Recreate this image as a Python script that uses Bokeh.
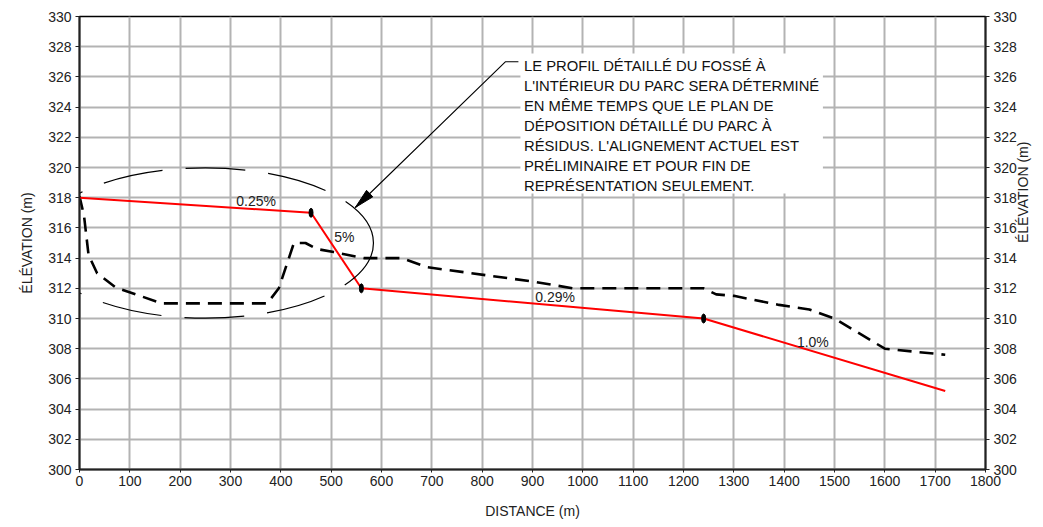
import math
from bokeh.plotting import figure
from bokeh.models import LinearAxis, FixedTicker, Range1d
from bokeh.core.properties import value
from bokeh.embed import file_html
from bokeh.resources import INLINE

# ---------------- data ----------------
x_ticks = list(range(0, 1801, 100))
y_ticks = list(range(300, 331, 2))

# existing ground profile (dashed black)
ground_x = [0, 9, 18, 35, 72, 164, 373, 396, 426, 449, 472, 505, 565, 640, 690,
            900, 980, 1240, 1265, 1300, 1390, 1450, 1500, 1600, 1720]
ground_y = [318.1, 316.8, 314.2, 313.0, 312.05, 311.0, 311.0, 312.0, 315.0, 315.0,
            314.6, 314.4, 314.0, 314.0, 313.4, 312.45, 312.0, 312.0, 311.6, 311.5,
            310.9, 310.6, 310.0, 308.0, 307.6]

# ditch profile (red)
ditch_x = [0, 460, 560, 1240, 1720]
ditch_y = [318.0, 317.0, 312.0, 310.0, 305.2]

# break points on the ditch profile
vertex_x = [460, 560, 1240]
vertex_y = [317.0, 312.0, 310.0]

slope_labels = ["0.25%", "5%", "0.29%", "1.0%"]
slope_label_x = [351, 526, 945, 1457]
slope_label_y = [317.8, 315.4, 311.4, 308.45]

note_lines = [
    "LE PROFIL DÉTAILLÉ DU FOSSÉ À",
    "L'INTÉRIEUR DU PARC SERA DÉTERMINÉ",
    "EN MÊME TEMPS QUE LE PLAN DE",
    "DÉPOSITION DÉTAILLÉ DU PARC À",
    "RÉSIDUS. L'ALIGNEMENT ACTUEL EST",
    "PRÉLIMINAIRE ET POUR FIN DE",
    "REPRÉSENTATION SEULEMENT.",
]

x_title = "DISTANCE (m)"
y_title = "ÉLÉVATION (m)"

# ---------------- layout constants ----------------
X0, X1, Y0, Y1 = 0, 1800, 300, 330
FRAME_W, FRAME_H = 906, 453
PX_X = FRAME_W / (X1 - X0)
PX_Y = FRAME_H / (Y1 - Y0)

FONT_NAME = "Liberation Sans"
FONT = value(FONT_NAME)

p = figure(width=1041, height=523, output_backend="svg", toolbar_location=None,
           x_range=Range1d(X0, X1), y_range=Range1d(Y0, Y1),
           min_border_left=79, min_border_right=56, min_border_top=16, min_border_bottom=54)
p.background_fill_color = "white"
p.border_fill_color = "white"
p.outline_line_color = "black"
p.outline_line_width = 1.5

# grid
p.xgrid.ticker = FixedTicker(ticks=x_ticks)
p.ygrid.ticker = FixedTicker(ticks=y_ticks)
for g in (p.xgrid, p.ygrid):
    g.grid_line_color = "#b3b3b3"
    g.grid_line_width = 2

# axes
p.xaxis.ticker = FixedTicker(ticks=x_ticks)
p.yaxis.ticker = FixedTicker(ticks=y_ticks)
right = LinearAxis(ticker=FixedTicker(ticks=y_ticks))
p.add_layout(right, "right")

for ax in (p.xaxis[0], p.yaxis[0], right):
    ax.axis_line_color = "#222222"
    ax.axis_line_width = 2
    ax.major_tick_line_color = "#222222"
    ax.major_tick_line_width = 1
    ax.major_tick_in = 0
    ax.major_tick_out = 4
    ax.minor_tick_line_color = None
    ax.major_label_text_font = FONT_NAME
    ax.major_label_text_font_size = "14px"
    ax.major_label_text_color = "#222222"
    ax.axis_label_text_font = FONT_NAME
    ax.axis_label_text_font_size = "14px"
    ax.axis_label_text_font_style = "normal"
    ax.axis_label_text_color = "#222222"
    ax.major_label_standoff = 4

p.xaxis.axis_label = x_title
p.xaxis.major_tick_out = 3
p.xaxis.major_label_standoff = 3
p.xaxis.axis_label_standoff = 14
p.yaxis[0].axis_label = y_title
p.yaxis[0].axis_label_standoff = 10
right.axis_label = y_title
right.axis_label_standoff = 3
right.axis_label_orientation = math.pi / 2

# existing ground (dashed)
p.line(ground_x, ground_y, line_color="black", line_width=2.6, line_dash="14 8")

# ditch profile (red)
p.line(ditch_x, ditch_y, line_color="#ff0000", line_width=2)
p.ellipse(vertex_x, vertex_y, width=4, height=9, width_units="screen",
          height_units="screen", fill_color="black", line_color="black")

# slope labels
p.text(slope_label_x, slope_label_y, text=slope_labels, text_font=FONT,
       text_font_size="14px", text_align="center", text_baseline="middle",
       text_color="#222222")

# dashed ellipse around the upper zone
p.ellipse(x=[250], y=[315], width=[668], height=[9.95], fill_color=None,
          line_color="black", line_width=1.2, line_dash="60 23", line_dash_offset=7)

# note box
note_left, note_right = 876, 1477
note_top, note_bottom = 327.55, 318.28
p.quad(left=[note_left], right=[note_right], top=[note_top], bottom=[note_bottom],
       fill_color="white", line_color=None)
line_step = 20 / PX_Y
first_y = 326.75
note_y = [first_y - i * line_step for i in range(len(note_lines))]
p.text([883] * len(note_lines), note_y, text=note_lines, text_font=FONT,
       text_font_size="14.8px", text_align="left", text_baseline="middle",
       text_color="#111111")

# leader with arrow
tail_end = (872, 327.0)
bend = (846, 327.0)
tip = (548, 317.35)
p.line([tail_end[0], bend[0], tip[0]], [tail_end[1], bend[1], tip[1]],
       line_color="black", line_width=1.1)
# arrow head computed in screen space
dxs = (bend[0] - tip[0]) * PX_X
dys = (bend[1] - tip[1]) * PX_Y
L = math.hypot(dxs, dys)
ux, uy = dxs / L, dys / L
nx, ny = -uy, ux
head_len, head_w = 20, 4.5
bx, by = ux * head_len, uy * head_len
hx = [tip[0], tip[0] + (bx + nx * head_w) / PX_X, tip[0] + (bx - nx * head_w) / PX_X]
hy = [tip[1], tip[1] + (by + ny * head_w) / PX_Y, tip[1] + (by - ny * head_w) / PX_Y]
p.patch(hx, hy, fill_color="black", line_color="black", line_width=1)

open("out.html", "w").write(file_html(p, INLINE))
